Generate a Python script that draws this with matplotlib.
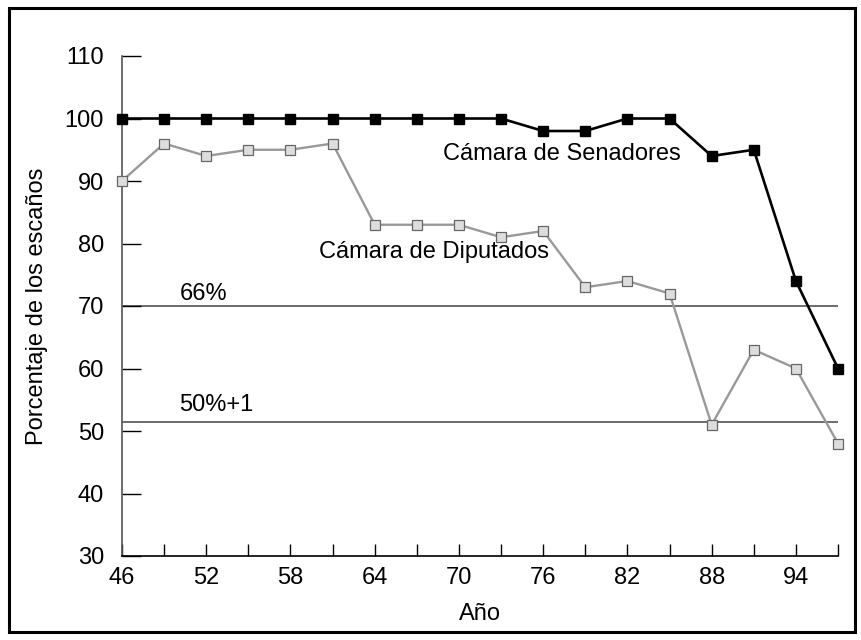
import numpy as np
import matplotlib
matplotlib.use('Agg')
import matplotlib.pyplot as plt
from matplotlib.patches import Rectangle

# years of each election and share of seats held (%)
years = [46, 49, 52, 55, 58, 61, 64, 67, 70, 73, 76, 79, 82, 85, 88, 91, 94, 97]
senadores = [100, 100, 100, 100, 100, 100, 100, 100, 100, 100, 98, 98, 100, 100, 94, 95, 74, 60]
diputados = [90, 96, 94, 95, 95, 96, 83, 83, 83, 81, 82, 73, 74, 72, 51, 63, 60, 48]

thresholds = [70, 51.5]
threshold_labels = ['66%', '50%+1']

major_years = list(range(46, 95, 6))
minor_years = list(range(49, 98, 6))
y_ticks = list(range(30, 111, 10))

plt.rcParams['font.family'] = ['Liberation Sans', 'DejaVu Sans']
fs = 17

fig = plt.figure(figsize=(8.62, 6.4), dpi=100)
ax = fig.add_axes([0.1415, 0.13125, 0.8307, 0.78125])

# outer frame round the whole picture
fig.patches.append(Rectangle((0.0105, 0.0125), 0.9815, 0.975, transform=fig.transFigure,
                             fill=False, edgecolor='black', linewidth=2.2))

for t in thresholds:
    ax.plot([46, 97], [t, t], color='#444444', linewidth=1.1, zorder=1)
ax.text(50.1, 72.0, threshold_labels[0], fontsize=fs, va='center', ha='left')
ax.text(50.1, 54.2, threshold_labels[1], fontsize=fs, va='center', ha='left')

ax.plot(years, diputados, color='#999999', linewidth=1.7, marker='s', markersize=6.5,
        markerfacecolor='#dddddd', markeredgecolor='#666666', markeredgewidth=0.9, zorder=3,
        clip_on=False)
ax.plot(years, senadores, color='black', linewidth=1.9, marker='s', markersize=6.5,
        markerfacecolor='black', markeredgecolor='black', zorder=4, clip_on=False)

ax.text(68.9, 94.3, 'Cámara de Senadores', fontsize=fs, va='center', ha='left')
ax.text(60.0, 78.6, 'Cámara de Diputados', fontsize=fs, va='center', ha='left')

ax.set_xlim(46, 97)
ax.set_ylim(30, 110)
ax.spines['top'].set_visible(False)
ax.spines['right'].set_visible(False)
ax.spines['left'].set_color('#555555')
ax.spines['left'].set_linewidth(1.2)
ax.spines['bottom'].set_linewidth(1.2)

ax.set_xticks(major_years)
ax.set_xticks(minor_years, minor=True)
ax.set_yticks(y_ticks)
ax.tick_params(axis='x', which='both', direction='in', length=8.6, width=1.0, labelsize=fs, pad=8)
ax.tick_params(axis='y', direction='in', length=13.7, width=1.0, labelsize=fs, pad=13)

ax.set_xlabel('Año', fontsize=fs, labelpad=10)
ax.set_ylabel('Porcentaje de los escaños', fontsize=fs, labelpad=12)

fig.savefig('out.png', dpi=100)
